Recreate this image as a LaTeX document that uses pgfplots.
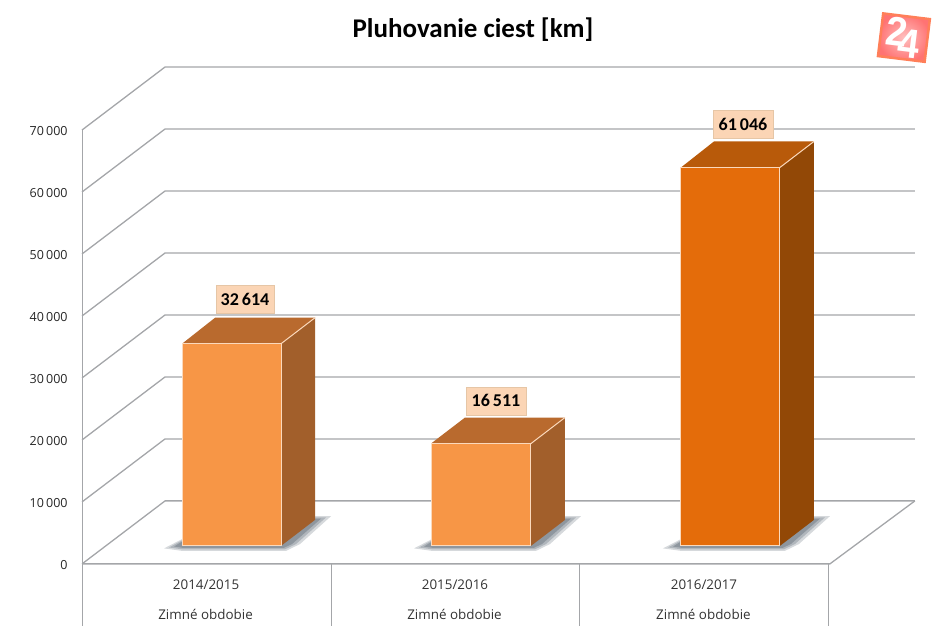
\documentclass[border=0pt]{standalone}
\usepackage{fontspec}
\setmainfont{Open Sans}
\newfontfamily\carlito{Carlito}
\newfontfamily\logofont{Liberation Sans}
\usepackage{pgfplots}
\pgfplotsset{compat=1.18}
\definecolor{gridc}{HTML}{A4A6A9}
\definecolor{fa}{HTML}{F79646}
\definecolor{ta}{HTML}{B96A2E}
\definecolor{sa}{HTML}{A25F2B}
\definecolor{fb}{HTML}{E46C0A}
\definecolor{tb}{HTML}{B85A0A}
\definecolor{sb}{HTML}{924806}
\definecolor{edge}{HTML}{FBD9BC}
\definecolor{lab}{HTML}{FBD5B5}
\definecolor{labe}{HTML}{E6C6A6}
\definecolor{shad}{HTML}{5A6672}
\begin{document}
\begin{tikzpicture}
\begin{axis}[
  scale only axis, width=950pt, height=634pt,
  xmin=0, xmax=950, ymin=-11290.32, ymax=90967.74,
  axis line style={draw=none}, major tick length=0pt,
  xtick=\empty, ytick={0,10000,20000,30000,40000,50000,60000,70000}, scaled y ticks=false,
  clip=false,
  yticklabel style={font=\fontsize{12.5}{14}\selectfont, text=black!85, anchor=east, xshift=71pt, yshift=-1.2pt},
  /pgf/number format/.cd, 1000 sep={\,}, assume math mode=true,
]
% grid on walls
\foreach \v in {0,10000,20000,30000,40000,50000,60000,70000}{
  \edef\temp{\noexpand\addplot[gridc, line width=1.3pt, forget plot, y filter/.expression={y+\v}] coordinates {(82,0)(165,10161)(915,10161)};}
  \temp
}
% floor and category table
\addplot[gridc, line width=1.3pt] coordinates {(82,0)(830,0)(915,10161)};
\addplot[gridc, line width=1pt] coordinates {(82,70000)(82,-10000)};
\addplot[gridc, line width=1pt] coordinates {(331,0)(331,-10000)};
\addplot[gridc, line width=1pt] coordinates {(580,0)(580,-10000)};
\addplot[gridc, line width=1pt] coordinates {(829,0)(829,-10000)};
% shadows
\newcommand\barshadow[1]{%
  \addplot[fill=shad, draw=none, opacity=.25, x filter/.expression={x+#1}] coordinates {(164,2500)(182,4000)(315,7700)(331,7700)(300,3200)(286,2100)(182,2100)} --cycle;
  \addplot[fill=shad, draw=none, opacity=.3, x filter/.expression={x+#1}] coordinates {(169,2650)(182,3800)(315,7500)(326,7500)(296,3200)(285,2350)(182,2350)} --cycle;
  \addplot[fill=shad, draw=none, opacity=.4, x filter/.expression={x+#1}] coordinates {(174,2800)(182,3600)(315,7300)(321,7300)(292,3200)(284,2600)(182,2600)} --cycle;
}
\barshadow{0}\barshadow{250}\barshadow{499}
% bar 1 : 32 614
\addplot[fill=sa, draw=none] coordinates {(281,2903)(315,7097)(315,39711)(281,35517)} --cycle;
\addplot[fill=ta, draw=none] coordinates {(182,35517)(215,39711)(315,39711)(281,35517)} --cycle;
\addplot[fill=fa, draw=none, y filter/.expression={y+2903}] coordinates {(182,0)(182,32614)(281,32614)(281,0)} --cycle;
\addplot[edge, line width=1pt] coordinates {(182,2903)(182,35517)(281,35517)(281,2903)(182,2903)};
\addplot[edge, line width=1pt] coordinates {(281,35517)(315,39711)};
% bar 2 : 16 511
\addplot[fill=sa, draw=none] coordinates {(531,2903)(565,7097)(565,23608)(531,19414)} --cycle;
\addplot[fill=ta, draw=none] coordinates {(431,19414)(465,23608)(565,23608)(531,19414)} --cycle;
\addplot[fill=fa, draw=none, y filter/.expression={y+2903}] coordinates {(431,0)(431,16511)(531,16511)(531,0)} --cycle;
\addplot[edge, line width=1pt] coordinates {(431,2903)(431,19414)(531,19414)(531,2903)(431,2903)};
\addplot[edge, line width=1pt] coordinates {(531,19414)(565,23608)};
% bar 3 : 61 046
\addplot[fill=sb, draw=none] coordinates {(780,2903)(814,7097)(814,68143)(780,63949)} --cycle;
\addplot[fill=tb, draw=none] coordinates {(681,63949)(714,68143)(814,68143)(780,63949)} --cycle;
\addplot[fill=fb, draw=none, y filter/.expression={y+2903}] coordinates {(681,0)(681,61046)(780,61046)(780,0)} --cycle;
\addplot[edge, line width=1pt] coordinates {(681,2903)(681,63949)(780,63949)(780,2903)(681,2903)};
\addplot[edge, line width=1pt] coordinates {(780,63949)(814,68143)};
% value labels
\tikzset{vl/.style={fill=lab, draw=labe, line width=.8pt, minimum width=60pt, minimum height=28pt, inner sep=0pt, font=\carlito\bfseries\fontsize{18}{20}\selectfont, text=black}}
\node[vl, minimum width=58pt] at (axis cs:245,42742) {32\,614};
\node[vl] at (axis cs:496,26290) {16\,511};
\node[vl] at (axis cs:743,70968) {61\,046};
% title
\node[font=\carlito\bfseries\fontsize{27}{30}\selectfont, text=black] at (axis cs:473,86129) {Pluhovanie ciest [km]};
% category labels
\tikzset{cl/.style={font=\fontsize{13.4}{15}\selectfont, text=black!80}}
\node[cl] at (axis cs:206,-3387) {2014/2015};
\node[cl] at (axis cs:455,-3387) {2015/2016};
\node[cl] at (axis cs:704,-3387) {2016/2017};
\node[cl] at (axis cs:205.5,-8226) {Zimné obdobie};
\node[cl] at (axis cs:454.5,-8226) {Zimné obdobie};
\node[cl] at (axis cs:703.5,-8226) {Zimné obdobie};
% logo
\node[rotate=-7, minimum width=47pt, minimum height=43pt, inner sep=0pt, draw=red!55!orange!65!white, line width=2.5pt, inner color=red!25!white, outer color=red!55!white] at (axis cs:904,84900) {};
\node[rotate=-7, text=white, inner sep=0pt, font=\logofont\bfseries\fontsize{41}{41}\selectfont] at (axis cs:903,84900) {\scalebox{0.95}[1]{2\kern-.22em\raisebox{-.27em}{4}}};
\end{axis}
\end{tikzpicture}
\end{document}
